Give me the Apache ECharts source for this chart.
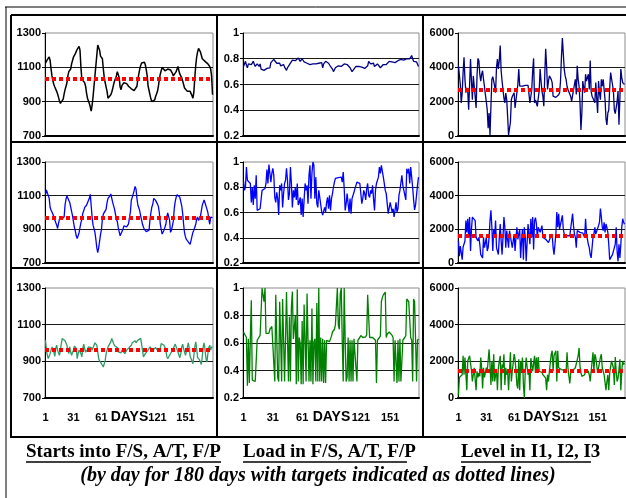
<!DOCTYPE html>
<html>
<head>
<meta charset="utf-8">
<title>Starts, Load and Level by day</title>
<script src="https://cdn.jsdelivr.net/npm/echarts@6/dist/echarts.min.js"></script>
<style>
  html, body { margin: 0; padding: 0; background: #fff; }
  #chart { width: 626px; height: 498px; }
</style>
</head>
<body>
<div id="chart"></div>
<script>
// x categories: day 1 .. 180
const days = Array.from({ length: 180 }, (_, i) => String(i + 1));

// Starts into F/S, A/T, F/P
const startsFS = [
  1125, 1135, 1145, 1150, 1160, 1140, 1090, 1050, 1020, 1000,
  985, 975, 960, 945, 925, 905, 890, 885, 895, 915,
  945, 970, 990, 1010, 1050, 1075, 1080, 1090, 1120, 1140,
  1160, 1170, 1180, 1190, 1205, 1215, 1222, 1200, 1100, 1030,
  1025, 1030, 1010, 990, 950, 920, 910, 890, 870, 845,
  880, 930, 990, 1050, 1110, 1170, 1230, 1240, 1200, 1165,
  1160, 1150, 1090, 1040, 1010, 985, 960, 920, 915, 930,
  940, 955, 975, 1000, 1020, 1035, 1050, 1075, 1080, 1040,
  985, 970, 995, 1005, 1010, 1015, 1020, 1005, 1000, 990,
  985, 990, 975, 980, 970, 965, 960, 975, 990, 1030,
  1060, 1090, 1110, 1125, 1130, 1135, 1130, 1115, 1085, 1050,
  990, 965, 940, 915, 900, 890, 895, 910, 930, 945,
  960, 990, 1030, 1060, 1080, 1100, 1105, 1090, 1080, 1075,
  1080, 1090, 1095, 1090, 1085, 1075, 1065, 1050, 1045, 1060,
  1075, 1090, 1105, 1080, 1060, 1050, 1040, 1020, 1000, 980,
  975, 970, 960, 965, 970, 960, 950, 935, 920, 955,
  1040, 1110, 1160, 1190, 1210, 1215, 1190, 1170, 1150, 1145,
  1140, 1135, 1135, 1130, 1120, 1115, 1105, 1090, 1050, 940
];
const startsAT = [
  1104, 1134, 1128, 1124, 1084, 1030, 1015, 1015, 990, 975,
  955, 940, 925, 905, 935, 960, 970, 968, 963, 953,
  975, 1045, 1080, 1098, 1108, 1095, 1060, 1033, 1023, 980,
  945, 912, 890, 860, 845, 845, 880, 912, 940, 960,
  995, 1010, 1030, 1040, 1043, 1048, 1053, 1084, 1108, 1100,
  970, 925, 905, 882, 840, 791, 761, 790, 830, 870,
  900, 960, 990, 993, 985, 1020, 1060, 1084, 1095, 1098,
  1110, 1100, 1060, 1053, 1020, 990, 960, 945, 910, 885,
  862, 852, 865, 900, 920, 915, 912, 915, 918, 932,
  970, 1003, 1074, 1090, 1087, 1130, 1155, 1140, 1084, 1043,
  1028, 1010, 980, 955, 930, 912, 900, 892, 886, 884,
  895, 895, 960, 1000, 1033, 1050, 1084, 1080, 1072, 1065,
  1050, 1035, 1000, 932, 900, 872, 862, 895, 902, 930,
  975, 998, 1000, 953, 882, 895, 920, 950, 1025, 1065,
  1090, 1105, 1108, 1104, 1090, 1065, 1040, 995, 930, 880,
  855, 840, 832, 826, 818, 811, 835, 860, 882, 895,
  912, 930, 960, 973, 953, 960, 975, 1010, 1043, 1060,
  1074, 1084, 1078, 1020, 1000, 960, 930, 973, 975, 970
];
const startsFP = [
  1016, 961, 933, 915, 924, 942, 951, 979, 988, 951, 927, 970, 988, 961, 945,
  933, 961, 997, 1025, 1019, 1016, 1012, 1012, 988, 961, 942, 979, 951, 933, 948,
  961, 983, 979, 970, 915, 942, 961, 970, 942, 924, 970, 994, 970, 951, 958,
  964, 979, 983, 970, 975, 961, 951, 970, 1001, 1006, 988, 951, 915, 902, 893,
  887, 878, 869, 878, 905, 942, 961, 979, 975, 979, 1006, 1025, 1016, 997, 985,
  975, 988, 975, 951, 942, 951, 946, 961, 951, 964, 942, 951, 961, 970, 972,
  970, 979, 988, 1001, 1006, 994, 1012, 1001, 1006, 1016, 1025, 1006, 1025, 994, 960,
  924, 933, 942, 951, 951, 961, 970, 979, 970, 970, 961, 964, 970, 975, 968,
  961, 957, 964, 970, 997, 1006, 988, 988, 975, 961, 927, 915, 909, 933, 942,
  951, 961, 970, 979, 994, 1001, 988, 951, 933, 920, 942, 979, 994, 970, 950,
  933, 924, 975, 1001, 975, 927, 915, 905, 887, 933, 979, 1006, 970, 920, 912,
  909, 896, 883, 924, 979, 1001, 961, 915, 896, 942, 975, 988, 961, 979, 975
];
const startsTargets = [1035, 970, 965];

// Load in F/S, A/T, F/P
const loadFS = [
  0.74, 0.76, 0.78, 0.75, 0.73, 0.76, 0.77, 0.76, 0.755, 0.77,
  0.78, 0.76, 0.74, 0.755, 0.76, 0.745, 0.74, 0.76, 0.72, 0.71,
  0.71, 0.71, 0.715, 0.72, 0.725, 0.715, 0.72, 0.73, 0.77, 0.78,
  0.785, 0.795, 0.81, 0.79, 0.765, 0.78, 0.775, 0.765, 0.745, 0.75,
  0.74, 0.755, 0.735, 0.72, 0.71, 0.73, 0.745, 0.755, 0.765, 0.77,
  0.79, 0.8, 0.795, 0.785, 0.79, 0.8, 0.805, 0.79, 0.78, 0.77,
  0.8, 0.79, 0.775, 0.78, 0.77, 0.765, 0.77, 0.76, 0.755, 0.755,
  0.75, 0.76, 0.755, 0.76, 0.76, 0.755, 0.77, 0.765, 0.77, 0.775,
  0.77, 0.73, 0.76, 0.775, 0.78, 0.785, 0.775, 0.765, 0.75, 0.74,
  0.735, 0.72, 0.7, 0.715, 0.73, 0.72, 0.725, 0.745, 0.74, 0.745,
  0.74, 0.75, 0.755, 0.76, 0.745, 0.755, 0.755, 0.76, 0.74, 0.73,
  0.72, 0.7, 0.71, 0.72, 0.735, 0.74, 0.73, 0.735, 0.74, 0.73,
  0.74, 0.735, 0.75, 0.73, 0.725, 0.735, 0.74, 0.745, 0.78, 0.77,
  0.76, 0.765, 0.755, 0.765, 0.74, 0.75, 0.745, 0.76, 0.755, 0.75,
  0.73, 0.745, 0.74, 0.755, 0.76, 0.768, 0.755, 0.75, 0.76, 0.78,
  0.77, 0.765, 0.775, 0.77, 0.76, 0.77, 0.755, 0.77, 0.785, 0.8,
  0.79, 0.795, 0.785, 0.78, 0.79, 0.78, 0.775, 0.8, 0.81, 0.805,
  0.8, 0.81, 0.825, 0.8, 0.78, 0.795, 0.79, 0.775, 0.765, 0.74
];
const loadAT = [
  0.855, 0.775, 0.8, 0.96, 0.855, 0.86, 0.855, 0.83, 0.68, 0.8,
  0.66, 0.815, 0.71, 0.895, 0.617, 0.617, 0.63, 0.63, 0.64, 0.775,
  0.775, 0.79, 0.79, 0.83, 0.94, 0.83, 0.98, 0.987, 0.84, 0.91,
  0.95, 0.895, 0.72, 0.68, 0.76, 0.71, 0.58, 0.815, 0.775, 0.83,
  0.64, 0.75, 0.83, 0.855, 0.95, 0.855, 0.7, 0.75, 0.96, 0.83,
  0.64, 0.775, 0.72, 0.8, 0.7, 0.83, 0.66, 0.68, 0.72, 0.58,
  0.71, 0.565, 0.7, 0.83, 0.775, 0.815, 0.67, 0.895, 0.974, 0.71,
  0.91, 1.0, 0.974, 0.71, 0.88, 0.67, 0.64, 0.775, 0.72, 0.71,
  0.605, 0.58, 0.58, 0.64, 0.605, 0.68, 0.72, 0.63, 0.736, 0.617,
  0.71, 0.75, 0.8, 0.84, 0.87, 0.88, 0.88, 0.876, 0.88, 0.876,
  0.88, 0.84, 0.92, 0.79, 0.617, 0.67, 0.75, 0.67, 0.605, 0.71,
  0.59, 0.71, 0.7, 0.76, 0.79, 0.815, 0.84, 0.855, 0.85, 0.83,
  0.815, 0.67, 0.71, 0.775, 0.75, 0.7, 0.79, 0.83, 0.736, 0.72,
  0.775, 0.75, 0.815, 0.71, 0.617, 0.775, 0.83, 0.815, 0.88, 0.96,
  0.91, 0.974, 0.987, 0.88, 0.83, 0.775, 0.75, 0.67, 0.59, 0.58,
  0.68, 0.67, 0.605, 0.63, 0.565, 0.617, 0.68, 0.605, 0.63, 0.736,
  0.775, 0.775, 0.895, 0.815, 0.775, 0.775, 0.7, 0.947, 0.91, 0.947,
  0.83, 0.96, 0.88, 0.8, 0.7, 0.62, 0.66, 0.74, 0.82, 0.88
];
const loadFP = [
  0.68, 0.673, 0.667, 0.64, 0.29, 0.63, 0.31, 0.63, 0.91, 0.33,
  0.33, 0.32, 0.32, 0.32, 0.62, 0.63, 0.63, 0.655, 0.66, 1.0,
  1.0, 0.9, 1.0, 0.67, 0.67, 0.66, 0.67, 0.7, 0.71, 0.72,
  0.73, 0.72, 0.32, 0.95, 0.94, 0.35, 0.32, 0.9, 0.63, 0.32,
  0.92, 0.63, 0.32, 0.63, 0.97, 0.63, 0.32, 0.79, 0.32, 0.86,
  0.975, 0.63, 0.64, 0.8, 0.3, 0.99, 0.32, 0.64, 0.6, 0.3,
  0.76, 0.3, 0.88, 0.63, 0.32, 0.96, 0.63, 0.32, 0.62, 0.32,
  0.85, 0.3, 0.61, 0.63, 0.32, 0.89, 0.32, 1.0, 0.32, 0.64,
  0.32, 0.63, 0.31, 0.62, 0.31, 0.62, 0.615, 0.615, 0.61, 0.63,
  0.65, 0.68, 0.69, 0.7, 0.73, 0.74, 1.0, 0.73, 0.7, 0.96,
  1.0, 0.62, 0.32, 1.0, 0.62, 0.32, 0.35, 0.64, 0.32, 0.62,
  0.32, 0.62, 0.32, 0.63, 0.63, 0.62, 0.32, 0.62, 0.63, 0.64,
  0.655, 0.655, 0.64, 0.64, 0.64, 0.645, 0.66, 0.95, 0.95, 0.64,
  0.64, 0.645, 0.64, 0.64, 0.63, 0.62, 0.31, 0.62, 0.63, 0.63,
  0.65, 0.9, 0.93, 0.95, 0.96, 0.97, 0.64, 0.665, 0.665, 0.68,
  0.68, 0.67, 0.655, 0.64, 0.32, 0.62, 0.62, 0.31, 0.62, 0.32,
  0.63, 0.32, 0.31, 0.62, 0.62, 0.64, 0.655, 0.92, 0.91, 0.9,
  0.89, 0.64, 0.62, 0.32, 0.92, 0.9, 0.62, 0.32, 0.62, 0.63
];

// Level in I1, I2, I3
const levelI1 = [
  4090, 4150, 3000, 1930, 2500, 3700, 4580, 3300, 2520, 2800,
  2600, 1530, 3000, 4480, 3200, 2120, 3500, 2910, 2300, 1630,
  3500, 4520, 4390, 3600, 3200, 3600, 3800, 3300, 2900, 2420,
  2000, 1530, 450, 1340, 60, 1730, 3300, 3460, 3400, 2900,
  2520, 4000, 4480, 3900, 4400, 5270, 3800, 3200, 2710, 2200,
  1930, 2500, 2120, 1140, 60, 0, 800, 2120, 2300, 2400,
  2520, 1630, 1650, 1730, 3000, 3900, 2910, 2810, 2850, 2900,
  2950, 3010, 2950, 2900, 2850, 2950, 3000, 1930, 2300, 2700,
  3800, 4520, 1930, 2100, 2000, 1730, 2200, 2620, 3900, 3200,
  2600, 2320, 1730, 3500, 5080, 4090, 2710, 3200, 3500, 3500,
  3300, 3110, 2320, 2250, 2220, 2250, 2300, 2300, 2400, 2520,
  3200, 4600, 5700, 4800, 3900, 3500, 3300, 2900, 2710, 2750,
  2810, 2300, 2030, 1930, 2030, 3000, 3300, 2420, 4090, 3300,
  2910, 1930, 350, 1340, 3200, 2800, 2520, 3600, 3200, 3400,
  3600, 2710, 4390, 2600, 2320, 2200, 2120, 1930, 3110, 2200,
  1340, 3200, 2500, 2120, 3300, 2900, 3300, 2700, 2120, 1000,
  650, 1340, 1500, 2800, 3700, 3700, 3000, 2620, 1530, 1300,
  1240, 2000, 2620, 650, 2200, 3900, 3400, 3110, 3010, 3000
];
const levelI2 = [
  1310, 400, 1010, 910, 200, 950, 1010, 1310, 2520, 1820, 2630, 1520, 2730, 710, 2000,
  2730, 2770, 2690, 2520, 1520, 1410, 1310, 1520, 1110, 500, 400, 300, 1520, 910, 1200,
  1520, 710, 910, 1520, 2520, 3130, 2120, 710, 2020, 1520, 2520, 910, 710, 500, 1500,
  2320, 1310, 500, 1520, 2730, 2120, 910, 1920, 1820, 910, 1920, 2020, 1820, 910, 1300,
  1720, 710, 1520, 2120, 1410, 1720, 2020, 300, 1310, 2020, 200, 2120, 1520, 100, 1200,
  2320, 2220, 1110, 2630, 1520, 2730, 810, 2520, 2690, 2320, 1520, 2120, 2020, 1820, 2000,
  2220, 1520, 1620, 1520, 1410, 1310, 1310, 1210, 1310, 1520, 1620, 1720, 910, 500, 1100,
  1720, 3030, 2120, 2930, 2020, 2120, 2020, 2830, 2020, 1720, 1620, 1720, 1620, 1520, 1580,
  1620, 1720, 1720, 2930, 2220, 1720, 1520, 910, 1920, 1920, 1820, 1820, 1760, 1720, 1780,
  1820, 1520, 2630, 1720, 1410, 1110, 910, 500, 300, 400, 1520, 1720, 2120, 1720, 1800,
  1720, 2220, 2420, 3230, 2730, 2120, 1920, 2420, 1820, 2320, 2120, 1820, 1110, 200, 150,
  100, 500, 710, 910, 1110, 2120, 710, 100, 1110, 300, 1110, 2120, 2630, 2420, 2300
];
const levelI3 = [
  150, 1120, 1120, 1180, 1270, 2300, 1270, 2210, 2240, 430, 2020, 2170, 2300, 2300, 1500,
  900, 1270, 1650, 1550, 430, 1460, 1120, 1370, 1180, 2210, 1650, 520, 1650, 1120, 1400,
  1650, 1460, 1460, 2650, 1830, 710, 2020, 900, 2390, 900, 990, 1550, 430, 1650, 2000,
  2300, 430, 1830, 1650, 2390, 710, 1650, 1270, 1460, 430, 1460, 2490, 900, 1460, 1900,
  2390, 2110, 1460, 710, 520, 2110, 430, 2020, 1460, 2210, 710, 0, 1460, 2210, 1700,
  1270, 1460, 430, 2170, 2240, 1460, 1460, 2300, 1370, 2210, 1460, 2240, 1460, 1370, 1380,
  1400, 1270, 1180, 1270, 1080, 430, 1270, 900, 1460, 1930, 2390, 2580, 1460, 2300, 2400,
  2580, 900, 2580, 1650, 1650, 1610, 1550, 1590, 1550, 1500, 1460, 1370, 2490, 1650, 1200,
  800, 1370, 1460, 1500, 1550, 1460, 1650, 1650, 1740, 2300, 2730, 1740, 1370, 1180, 1150,
  1120, 1270, 1460, 1370, 1460, 1460, 1270, 900, 1460, 1460, 2490, 1460, 2390, 2210, 1800,
  1370, 1270, 1460, 2210, 2390, 1650, 1460, 1270, 1180, 430, 900, 1270, 430, 1370, 1700,
  2020, 2110, 1650, 710, 2240, 1460, 900, 1080, 1550, 2110, 430, 1460, 2020, 1830, 1900
];
const levelTargets = [2700, 1600, 1500];

// one column per measure, rows are F/S, A/T, F/P (I1, I2, I3)
const columns = [
  { min: 700, max: 1300, interval: 200, data: [startsFS, startsAT, startsFP], targets: startsTargets },
  { min: 0.2, max: 1, interval: 0.2, data: [loadFS, loadAT, loadFP], targets: [null, null, null] },
  { min: 0, max: 6000, interval: 2000, data: [levelI1, levelI2, levelI3], targets: levelTargets }
];
const lineColors = [
  ['#000000', '#0000FF', '#339966'],
  ['#000080', '#0000FF', '#008000'],
  ['#000080', '#0000FF', '#008000']
];

// panel positions in the 626x498 picture
const colLeft = [45, 243, 458];
const colWidth = [168, 176, 167];
const rowTop = [33, 162, 288];
const rowHeight = [103, 101, 110];

const sans = '"Liberation Sans", Arial, sans-serif';
const serif = '"Liberation Serif", "Times New Roman", serif';

const grids = [], xAxes = [], yAxes = [], series = [];
columns.forEach((col, c) => {
  col.data.forEach((values, r) => {
    const idx = grids.length;
    grids.push({
      left: colLeft[c], top: rowTop[r], width: colWidth[c], height: rowHeight[r],
      show: true, borderColor: '#8c8c8c', borderWidth: 1, backgroundColor: 'transparent'
    });
    xAxes.push({
      gridIndex: idx,
      type: 'category',
      data: days,
      boundaryGap: true,
      axisLine: { lineStyle: { color: '#000', width: 2 } },
      axisTick: { interval: 5, length: 4, lineStyle: { color: '#000', width: 2 } },
      axisLabel: {
        show: r === 2,
        interval: 29,
        margin: 14,
        color: '#000',
        fontFamily: sans,
        fontWeight: 'bold',
        fontSize: 11,
        formatter: (v, i) => (i === 90 ? '{d|DAYS}' : v),
        rich: { d: { fontSize: 14, fontWeight: 'bold', fontFamily: sans, color: '#000', padding: [-2, 0, 0, 0] } }
      },
      splitLine: { show: false }
    });
    yAxes.push({
      gridIndex: idx,
      type: 'value',
      min: col.min, max: col.max, interval: col.interval,
      axisLine: { show: true, lineStyle: { color: '#000', width: 1 } },
      axisTick: { show: true, length: 3, lineStyle: { color: '#000' } },
      axisLabel: {
        color: '#000', fontFamily: sans, fontWeight: 'bold', fontSize: 11, margin: 4,
        formatter: v => String(+v.toFixed(1))
      },
      splitLine: { show: true, showMinLine: false, showMaxLine: false, lineStyle: { color: '#1a1a1a', width: 1 } }
    });
    const s = {
      type: 'line',
      xAxisIndex: idx,
      yAxisIndex: idx,
      data: values,
      symbol: 'none',
      showSymbol: false,
      lineStyle: { color: lineColors[c][r], width: c === 0 && r === 0 ? 1.5 : 1.3 },
      itemStyle: { color: lineColors[c][r] }
    };
    if (col.targets[r] != null) {
      s.markLine = {
        silent: true,
        symbol: 'none',
        label: { show: false },
        lineStyle: { color: '#FF0000', type: [4, 3], width: 4 },
        data: [{ yAxis: col.targets[r] }]
      };
    }
    series.push(s);
  });
});

// frame lines and captions
const frame = [
  [5, 7, 626, 7, 1], [6, 7, 6, 498, 1],
  [11, 15, 626, 15, 2], [11, 15, 11, 438, 2], [11, 437, 626, 437, 2],
  [217, 15, 217, 437, 2], [423, 15, 423, 437, 2],
  [11, 142, 626, 142, 2], [11, 268, 626, 268, 2]
];
const captions = [
  { text: 'Starts into F/S, A/T, F/P', x: 26, end: 221 },
  { text: 'Load in F/S, A/T, F/P', x: 243, end: 407 },
  { text: 'Level in I1, I2, I3', x: 461, end: 591 }
];
const graphic = [];
frame.forEach(([x1, y1, x2, y2, w]) => {
  graphic.push({ type: 'line', silent: true, shape: { x1, y1, x2, y2 }, style: { stroke: '#000', lineWidth: w } });
});
captions.forEach(cp => {
  graphic.push({
    type: 'text', silent: true, x: cp.x, y: 452,
    style: {
      text: cp.text, font: 'bold 19px ' + serif, fill: '#000',
      align: 'left', verticalAlign: 'middle', textAlign: 'left', textVerticalAlign: 'middle'
    }
  });
  graphic.push({ type: 'line', silent: true, shape: { x1: cp.x, y1: 462, x2: cp.end, y2: 462 }, style: { stroke: '#000', lineWidth: 1.5 } });
});
graphic.push({
  type: 'text', silent: true, x: 318, y: 476,
  style: {
    text: '(by day for 180 days with targets indicated as dotted lines)',
    font: 'italic bold 20px ' + serif, fill: '#000',
    align: 'center', verticalAlign: 'middle', textAlign: 'center', textVerticalAlign: 'middle'
  }
});

const chart = echarts.init(document.getElementById('chart'));
chart.setOption({
  animation: false,
  backgroundColor: '#fff',
  grid: grids,
  xAxis: xAxes,
  yAxis: yAxes,
  series: series,
  graphic: graphic
});
</script>
</body>
</html>
